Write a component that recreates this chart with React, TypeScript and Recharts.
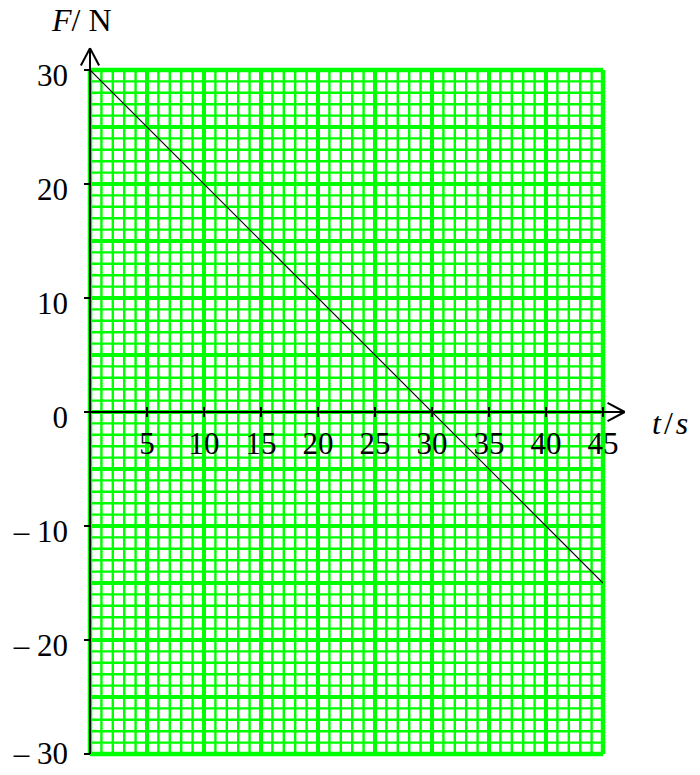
import { ComposedChart, Line, XAxis, YAxis, ReferenceLine, ReferenceDot } from 'recharts';

// force-time line
const tValues = [0, 45];
const fValues = [30, -15];

// axis ticks and their labels
const xTickValues = [5, 10, 15, 20, 25, 30, 35, 40, 45];
const xTickLabels = ['5', '10', '15', '20', '25', '30', '35', '40', '45'];
const yTickValues = [30, 20, 10, 0, -10, -20, -30];
const yTickLabels = ['30', '20', '10', '0', '\u2013 10', '\u2013 20', '\u2013 30'];

// graph paper: 1 unit minor squares, 5 unit major squares
const minorX = Array.from({ length: 46 }, (_, i) => i);
const minorY = Array.from({ length: 61 }, (_, i) => i - 30);
const majorX = [0, 5, 10, 15, 20, 25, 30, 35, 40, 45];
const majorY = [-30, -25, -20, -15, -10, -5, 0, 5, 10, 15, 20, 25, 30];

const lineData = tValues.map((t, i) => ({ t, F: fValues[i] }));

const GREEN = '#00ff00';
const FONT = '"Liberation Serif", "DejaVu Serif", serif';
const FS = 31;

const XTick = ({ cx, cy, label }: any) => (
  <g>
    <line x1={cx} x2={cx} y1={cy - 5} y2={cy + 5} stroke="#000" strokeWidth={2} />
    <text x={cx} y={cy + 42} textAnchor="middle" fontFamily={FONT} fontSize={FS} fill="#000">
      {label}
    </text>
  </g>
);

const YTick = ({ cx, cy, label, last }: any) => (
  <g>
    <line x1={cx - 6} x2={cx} y1={cy} y2={cy} stroke="#000" strokeWidth={2} />
    <text x={cx - 22} y={cy + (last ? 10 : 16)} textAnchor="end" fontFamily={FONT} fontSize={FS} fill="#000">
      {label}
    </text>
  </g>
);

export default function App() {
  return (
    <div style={{ position: 'absolute', left: 0, top: 0, width: 700, height: 775, background: '#fff' }}>
      <ComposedChart width={700} height={775} data={lineData} margin={{ top: 70, right: 97, bottom: 21, left: 90 }}>
        <XAxis type="number" dataKey="t" domain={[0, 45]} allowDataOverflow hide />
        <YAxis type="number" dataKey="F" domain={[-30, 30]} allowDataOverflow hide />

        {minorX.map((x) => (
          <ReferenceLine key={`mx${x}`} x={x} stroke={GREEN} strokeWidth={2.4} />
        ))}
        {minorY.map((y) => (
          <ReferenceLine key={`my${y}`} y={y} stroke={GREEN} strokeWidth={2.4} />
        ))}
        {majorX.map((x) => (
          <ReferenceLine key={`Mx${x}`} x={x} stroke={GREEN} strokeWidth={x === 0 || x === 45 ? 4.5 : 4} ifOverflow="visible" />
        ))}
        {majorY.map((y) => (
          <ReferenceLine key={`My${y}`} y={y} stroke={GREEN} strokeWidth={y === 30 || y === -30 ? 4.5 : 4} ifOverflow="visible" />
        ))}

        <Line type="linear" dataKey="F" stroke="#000" strokeWidth={1.2} dot={false} isAnimationActive={false} />

        {/* axes with arrow heads */}
        <ReferenceLine segment={[{ x: 0, y: -30 }, { x: 0, y: 31.9 }]} stroke="#000" strokeWidth={2} ifOverflow="visible" />
        <ReferenceLine segment={[{ x: -0.8, y: 30.4 }, { x: 0, y: 31.9 }]} stroke="#000" strokeWidth={2} ifOverflow="visible" />
        <ReferenceLine segment={[{ x: 0.8, y: 30.4 }, { x: 0, y: 31.9 }]} stroke="#000" strokeWidth={2} ifOverflow="visible" />
        <ReferenceLine segment={[{ x: -0.5, y: 0 }, { x: 46.9, y: 0 }]} stroke="#000" strokeWidth={2} ifOverflow="visible" />
        <ReferenceLine segment={[{ x: 45.4, y: 0.8 }, { x: 46.9, y: 0 }]} stroke="#000" strokeWidth={2} ifOverflow="visible" />
        <ReferenceLine segment={[{ x: 45.4, y: -0.8 }, { x: 46.9, y: 0 }]} stroke="#000" strokeWidth={2} ifOverflow="visible" />

        {xTickValues.map((t, i) => (
          <ReferenceDot key={`xt${t}`} x={t} y={0} ifOverflow="visible" shape={(p: any) => <XTick {...p} label={xTickLabels[i]} />} />
        ))}
        {yTickValues.map((F, i) => (
          <ReferenceDot
            key={`yt${F}`}
            x={0}
            y={F}
            ifOverflow="visible"
            shape={(p: any) => <YTick {...p} label={yTickLabels[i]} last={i === yTickValues.length - 1} />}
          />
        ))}
      </ComposedChart>

      <svg width={700} height={775} style={{ position: 'absolute', left: 0, top: 0, pointerEvents: 'none' }}>
        <text x={52} y={31} fontFamily={FONT} fontSize={32} fill="#000">
          <tspan fontStyle="italic">F</tspan>
          <tspan>/ N</tspan>
        </text>
        <text x={652} y={434} fontFamily={FONT} fontSize={32} fill="#000">
          <tspan fontStyle="italic">t</tspan>
          <tspan dx={3}>/</tspan>
          <tspan dx={3} fontStyle="italic">s</tspan>
        </text>
      </svg>
    </div>
  );
}
